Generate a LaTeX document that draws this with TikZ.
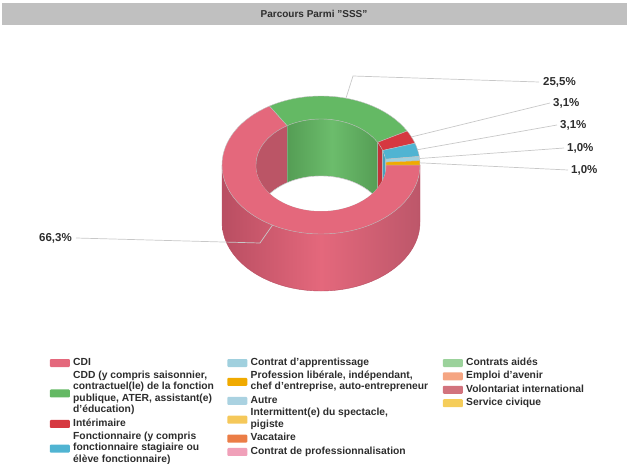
\documentclass[tikz,border=0pt]{standalone}
\usepackage{fontspec}
\setmainfont{Liberation Sans}
\usetikzlibrary{positioning}

\definecolor{titlegrey}{RGB}{192,192,192}
\definecolor{labelgrey}{RGB}{45,45,45}
\definecolor{leadgrey}{RGB}{200,200,200}
\definecolor{cCDI}{RGB}{228,104,124}
\definecolor{cCDD}{RGB}{100,185,100}
\definecolor{cInt}{RGB}{214,56,64}
\definecolor{cFonc}{RGB}{80,180,210}
\definecolor{cApp}{RGB}{160,208,222}
\definecolor{cLib}{RGB}{240,170,0}
\definecolor{cAutre}{RGB}{170,210,225}
\definecolor{cInterm}{RGB}{245,200,90}
\definecolor{cVac}{RGB}{235,125,70}
\definecolor{cPro}{RGB}{240,160,185}
\definecolor{cAid}{RGB}{155,210,155}
\definecolor{cAve}{RGB}{245,165,130}
\definecolor{cVol}{RGB}{210,115,125}
\definecolor{cCiv}{RGB}{245,205,90}
\definecolor{pinkedge}{RGB}{185,78,98}

\begin{document}
\begin{tikzpicture}[x=1pt,y=-1pt,
    slice/.style={draw=black!25,line width=0.4pt},
    lead/.style={draw=leadgrey,line width=0.7pt},
    pct/.style={font=\bfseries\fontsize{11.5}{13}\selectfont,text=labelgrey,inner sep=0pt},
    legtext/.style={font=\bfseries\fontsize{10.3}{11.6}\selectfont,text=labelgrey,
      align=left,inner sep=0pt,anchor=north west,
      execute at begin node=\strut,execute at end node=\strut},
    swatch/.style={minimum width=20pt,minimum height=8pt,inner sep=0pt,rounded corners=1pt}]

  \useasboundingbox (0,0) rectangle (628,463);

  % title bar
  \fill[titlegrey] (2,3) rectangle (627,25);
  \node[font=\bfseries\fontsize{10}{12}\selectfont,text=labelgrey] (title) at (314,14) {Parcours Parmi "SSS"};

  % outer wall
  \draw[draw=pinkedge,line width=0.4pt,left color=pinkedge,right color=pinkedge!95!white,middle color=cCDI]
    (420,165) arc[start angle=0,end angle=180,x radius=99,y radius=69]
    -- (222,222) arc[start angle=180,end angle=0,x radius=99,y radius=69] -- cycle;

  % top face
  \foreach \a/\b/\c in {0/238.7/cCDI, 238.7/330.5/cCDD, 330.5/341.6/cInt,
                        341.6/352.8/cFonc, 352.8/356.4/cApp, 356.4/360/cLib}
    \filldraw[slice,fill=\c] ({321+99*cos(\a)},{165+69*sin(\a)})
      arc[start angle=\a,end angle=\b,x radius=99,y radius=69]
      -- ({321+65*cos(\b)},{165+46*sin(\b)})
      arc[start angle=\b,end angle=\a,x radius=65,y radius=46] -- cycle;

  % inner wall
  \begin{scope}
    \clip (321,165) ellipse[x radius=65,y radius=46];
    \foreach \a/\b/\c in {180/238.7/cCDI!82!black, 330.5/341.6/cInt!90!black,
                          341.6/352.8/cFonc!90!black, 352.8/356.4/cApp!90!black,
                          356.4/360/cLib!90!black}
      \filldraw[slice,fill=\c] ({321+65*cos(\a)},{165+46*sin(\a)})
        arc[start angle=\a,end angle=\b,x radius=65,y radius=46]
        -- ++(0,57)
        arc[start angle=\b,end angle=\a,x radius=65,y radius=46] -- cycle;
    \draw[slice,left color=cCDD!85!black,right color=cCDD!85!black,middle color=cCDD!95!white]
      ({321+65*cos(238.7)},{165+46*sin(238.7)})
      arc[start angle=238.7,end angle=330.5,x radius=65,y radius=46]
      -- ++(0,57)
      arc[start angle=330.5,end angle=238.7,x radius=65,y radius=46] -- cycle;
    \filldraw[slice,fill=white] (321,222) ellipse[x radius=65,y radius=46];
  \end{scope}

  % data labels
  \coordinate (mCDI)  at ({321+99*cos(119.35)},{165+69*sin(119.35)});
  \coordinate (mCDD)  at ({321+99*cos(284.6)},{165+69*sin(284.6)});
  \coordinate (mInt)  at ({321+99*cos(336)},{165+69*sin(336)});
  \coordinate (mFonc) at ({321+99*cos(347.2)},{165+69*sin(347.2)});
  \coordinate (mApp)  at ({321+99*cos(354.6)},{165+69*sin(354.6)});
  \coordinate (mLib)  at ({321+99*cos(358.2)},{165+69*sin(358.2)});
  \coordinate (kCDI)  at (260,243);
  \coordinate (kCDD)  at (353,76);

  \node[pct,anchor=east] (p663) at (72,238) {66,3\%};
  \node[pct,anchor=west] (p255) at (543,82) {25,5\%};
  \node[pct,anchor=west] (p31a) at (553,103) {3,1\%};
  \node[pct,anchor=west] (p31b) at (560,125) {3,1\%};
  \node[pct,anchor=west] (p10a) at (567,148) {1,0\%};
  \node[pct,anchor=west] (p10b) at (571,170) {1,0\%};

  \draw[lead] (mCDI) -- (kCDI) -- ([xshift=4pt]p663.east);
  \draw[lead] (mCDD) -- (kCDD) -- ([xshift=-4pt]p255.west);
  \draw[lead] (mInt) -- ([xshift=-3pt]p31a.west);
  \draw[lead] (mFonc) -- ([xshift=-3pt]p31b.west);
  \draw[lead] (mApp) -- ([xshift=-3pt]p10a.west);
  \draw[lead] (mLib) -- ([xshift=-3pt]p10b.west);

  % legend, column 1
  \node[legtext] (cdi) at (73,357) {CDI};
  \node[legtext,below=1.4pt of cdi.south west,anchor=north west] (cdd)
    {CDD (y compris saisonnier,\\contractuel(le) de la fonction\\publique, ATER, assistant(e)\\d'éducation)};
  \node[legtext,below=1.4pt of cdd.south west,anchor=north west] (int) {Intérimaire};
  \node[legtext,below=1.4pt of int.south west,anchor=north west] (fonc)
    {Fonctionnaire (y compris\\fonctionnaire stagiaire ou\\élève fonctionnaire)};

  % legend, column 2
  \node[legtext] (app) at (250.5,357) {Contrat d'apprentissage};
  \node[legtext,below=1.4pt of app.south west,anchor=north west] (lib)
    {Profession libérale, indépendant,\\chef d'entreprise, auto-entrepreneur};
  \node[legtext,below=1.4pt of lib.south west,anchor=north west] (autre) {Autre};
  \node[legtext,below=1.4pt of autre.south west,anchor=north west] (interm)
    {Intermittent(e) du spectacle,\\pigiste};
  \node[legtext,below=1.4pt of interm.south west,anchor=north west] (vac) {Vacataire};
  \node[legtext,below=1.4pt of vac.south west,anchor=north west] (pro) {Contrat de professionnalisation};

  % legend, column 3
  \node[legtext] (aid) at (466,357) {Contrats aidés};
  \node[legtext,below=1.4pt of aid.south west,anchor=north west] (ave) {Emploi d'avenir};
  \node[legtext,below=1.4pt of ave.south west,anchor=north west] (vol) {Volontariat international};
  \node[legtext,below=1.4pt of vol.south west,anchor=north west] (civ) {Service civique};

  % swatches
  \node[swatch,fill=cCDI,left=3pt of cdi] (sCDI) {};
  \node[swatch,fill=cCDD,left=3pt of cdd] (sCDD) {};
  \node[swatch,fill=cInt,left=3pt of int] (sInt) {};
  \node[swatch,fill=cFonc,left=3pt of fonc] (sFonc) {};
  \node[swatch,fill=cApp,left=3pt of app] (sApp) {};
  \node[swatch,fill=cLib,left=3pt of lib] (sLib) {};
  \node[swatch,fill=cAutre,left=3pt of autre] (sAutre) {};
  \node[swatch,fill=cInterm,left=3pt of interm] (sInterm) {};
  \node[swatch,fill=cVac,left=3pt of vac] (sVac) {};
  \node[swatch,fill=cPro,left=3pt of pro] (sPro) {};
  \node[swatch,fill=cAid,left=3pt of aid] (sAid) {};
  \node[swatch,fill=cAve,left=3pt of ave] (sAve) {};
  \node[swatch,fill=cVol,left=3pt of vol] (sVol) {};
  \node[swatch,fill=cCiv,left=3pt of civ] (sCiv) {};

\end{tikzpicture}
\end{document}
